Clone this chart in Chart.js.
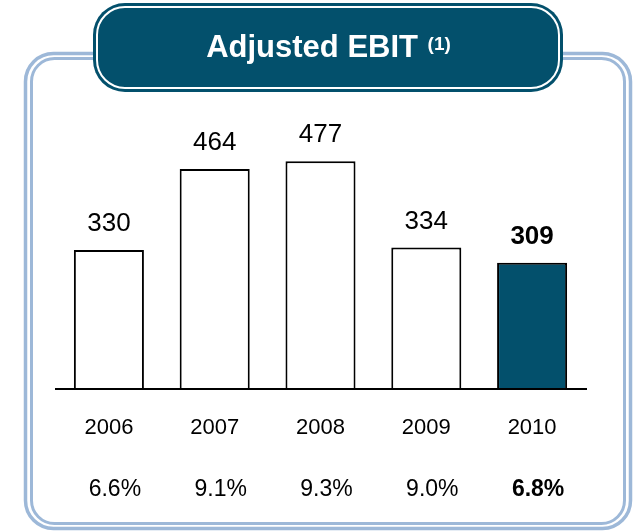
<!DOCTYPE html>
<html>
<head>
<meta charset="utf-8">
<script src="https://cdn.jsdelivr.net/npm/chart.js@4.4.1/dist/chart.umd.min.js"></script>
<style>
  html, body { margin: 0; padding: 0; background: #fff; }
  #wrap { width: 635px; height: 531px; }
</style>
</head>
<body>
<div id="wrap"><canvas id="grafica" width="635" height="531"></canvas></div>
<script>
const anios = ['2006', '2007', '2008', '2009', '2010'];
const ebit = [330, 464, 477, 334, 309];
const margenes = ['6.6%', '9.1%', '9.3%', '9.0%', '6.8%'];

const azul = '#03506c';
const marco = '#9db8d8';
const fuente = '"Liberation Sans", Arial, sans-serif';

function rectRedondo(ctx, x, y, w, h, r) {
  ctx.beginPath();
  ctx.moveTo(x + r, y);
  ctx.lineTo(x + w - r, y);
  ctx.arcTo(x + w, y, x + w, y + r, r);
  ctx.lineTo(x + w, y + h - r);
  ctx.arcTo(x + w, y + h, x + w - r, y + h, r);
  ctx.lineTo(x + r, y + h);
  ctx.arcTo(x, y + h, x, y + h - r, r);
  ctx.lineTo(x, y + r);
  ctx.arcTo(x, y, x + r, y, r);
  ctx.closePath();
}

// marco doble y caja del titulo
const fondo = {
  id: 'fondo',
  beforeDraw(chart) {
    const ctx = chart.ctx;
    ctx.save();
    ctx.strokeStyle = marco;
    ctx.lineWidth = 3.5;
    rectRedondo(ctx, 25.5, 53.5, 605, 475, 28);
    ctx.stroke();
    ctx.lineWidth = 3;
    rectRedondo(ctx, 31.5, 58.5, 593, 465, 23);
    ctx.stroke();

    ctx.fillStyle = azul;
    rectRedondo(ctx, 93, 3, 470, 89, 32);
    ctx.fill();
    ctx.strokeStyle = '#fff';
    ctx.lineWidth = 2;
    rectRedondo(ctx, 97, 7, 462, 81, 28);
    ctx.stroke();

    ctx.fillStyle = '#fff';
    ctx.textBaseline = 'alphabetic';
    ctx.font = 'bold 31px ' + fuente;
    const t1 = 'Adjusted EBIT ';
    const w1 = ctx.measureText(t1).width;
    ctx.font = 'bold 19px ' + fuente;
    const t2 = '(1)';
    const w2 = ctx.measureText(t2).width;
    const x0 = 328 - (w1 + w2) / 2;
    ctx.font = 'bold 31px ' + fuente;
    ctx.textAlign = 'left';
    ctx.fillText(t1, x0, 57);
    ctx.font = 'bold 19px ' + fuente;
    ctx.fillText(t2, x0 + w1 + 1, 50);
    ctx.restore();
  },
  afterDatasetsDraw(chart) {
    const ctx = chart.ctx;
    const area = chart.chartArea;
    const x = chart.scales.x;
    const meta = chart.getDatasetMeta(0);
    ctx.save();
    ctx.strokeStyle = '#000';
    ctx.lineWidth = 2;
    ctx.beginPath();
    ctx.moveTo(area.left - 1, area.bottom);
    ctx.lineTo(area.right + 2, area.bottom);
    ctx.stroke();

    ctx.fillStyle = '#000';
    ctx.textAlign = 'center';
    ctx.textBaseline = 'alphabetic';
    meta.data.forEach((barra, i) => {
      const ultimo = i === anios.length - 1;
      ctx.font = (ultimo ? 'bold ' : '') + '26px ' + fuente;
      ctx.fillText(String(ebit[i]), barra.x, barra.y - 19);
      const cx = x.getPixelForValue(i);
      ctx.font = '22px ' + fuente;
      ctx.fillText(anios[i], cx, 434);
      ctx.font = (ultimo ? 'bold ' : '') + '23px ' + fuente;
      ctx.fillText(margenes[i], cx + 6, 496);
    });
    ctx.restore();
  }
};

new Chart(document.getElementById('grafica'), {
  type: 'bar',
  data: {
    labels: anios,
    datasets: [{
      data: ebit,
      backgroundColor: anios.map((a, i) => i === anios.length - 1 ? azul : '#fff'),
      borderColor: '#000',
      borderWidth: 2,
      borderSkipped: 'bottom',
      barPercentage: 0.662,
      categoryPercentage: 1
    }]
  },
  options: {
    responsive: false,
    animation: false,
    events: [],
    layout: { padding: { top: 102, bottom: 142, left: 56, right: 50 } },
    plugins: { legend: { display: false }, tooltip: { enabled: false } },
    scales: {
      x: { display: false },
      y: { display: false, min: 100, max: 575 }
    }
  },
  plugins: [fondo]
});
</script>
</body>
</html>
